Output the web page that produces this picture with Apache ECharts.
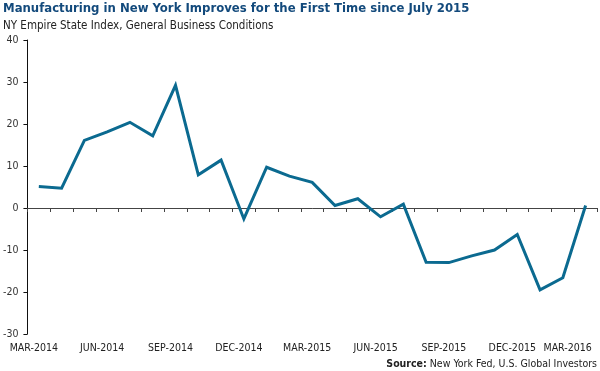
<!DOCTYPE html>
<html><head><meta charset="utf-8">
<script src="https://cdn.jsdelivr.net/npm/echarts@6/dist/echarts.min.js"></script>
<style>html,body{margin:0;padding:0;background:#fff}#c{width:600px;height:371px}</style>
</head><body><div id="c"></div>
<script>
const categories = ['MAR-2014','APR-2014','MAY-2014','JUN-2014','JUL-2014','AUG-2014','SEP-2014','OCT-2014','NOV-2014','DEC-2014',
  'JAN-2015','FEB-2015','MAR-2015','APR-2015','MAY-2015','JUN-2015','JUL-2015','AUG-2015','SEP-2015','OCT-2015','NOV-2015','DEC-2015',
  'JAN-2016','FEB-2016','MAR-2016'];
const indexValues = [5.1,4.7,16.1,18.1,20.4,17.2,29.2,7.9,11.4,-2.6,9.7,7.6,6.1,0.6,2.2,-2.1,0.9,-12.9,-13.0,-11.4,-10.0,-6.3,-19.5,-16.6,0.6];
const yMin = -30, yMax = 40, yStep = 10;
const titleText = 'Manufacturing in New York Improves for the First Time since July 2015';
const subtitleText = 'NY Empire State Index, General Business Conditions';
const sourceLabel = 'Source:';
const sourceText = ' New York Fed, U.S. Global Investors';

const FONT = '"DejaVu Sans Condensed", "Liberation Sans Narrow", Roboto, sans-serif';
const chart = echarts.init(document.getElementById('c'), null, {renderer: 'canvas'});
chart.setOption({
  animation: false,
  backgroundColor: '#fff',
  title: [{
    text: titleText,
    subtext: subtitleText,
    left: 3, top: 2, padding: 0, itemGap: 5,
    textStyle: {fontFamily: FONT, fontSize: 13, fontWeight: 'bold', color: '#134a7c'},
    subtextStyle: {fontFamily: FONT, fontSize: 11.5, fontWeight: 'normal', color: '#222'}
  }, {
    text: '{b|' + sourceLabel + '}{r|' + sourceText + '}',
    right: 3, bottom: 1, padding: 0,
    textStyle: {fontWeight: 'normal', fontFamily: FONT, fontSize: 10.5, color: '#222', rich: {
      b: {fontFamily: FONT, fontSize: 10.5, fontWeight: 'bold', color: '#222'},
      r: {fontFamily: FONT, fontSize: 10.5, fontWeight: 'normal', color: '#222'}
    }}
  }],
  grid: {left: 27, right: 3, top: 40, bottom: 37, containLabel: false},
  xAxis: [{
    type: 'category', data: categories, boundaryGap: true,
    axisLine: {onZero: true, lineStyle: {color: '#444', width: 1}},
    axisTick: {show: true, interval: 0, length: 4, lineStyle: {color: '#444'}},
    axisLabel: {show: false},
    splitLine: {show: false}
  }, {
    type: 'category', data: categories, boundaryGap: true, position: 'bottom',
    axisLine: {show: false, onZero: false},
    axisTick: {show: false},
    axisLabel: {
      interval: 2, margin: 9, color: '#222', fontFamily: FONT, fontSize: 10.5,
      formatter: function (v, i) { return i === categories.length - 1 ? '{l|' + v + '}' : '{a|' + v + '}'; },
      rich: {
        a: {fontFamily: FONT, fontSize: 10.5, color: '#222', padding: [0, 10, 0, 0]},
        l: {fontFamily: FONT, fontSize: 10.5, color: '#222', padding: [0, 36, 0, 0]}
      }
    },
    splitLine: {show: false}
  }],
  yAxis: {
    type: 'value', min: yMin, max: yMax, interval: yStep,
    axisLine: {show: true, lineStyle: {color: '#111', width: 1}},
    axisTick: {show: true, length: 4, lineStyle: {color: '#111'}},
    axisLabel: {margin: 9, color: '#333', fontFamily: FONT, fontSize: 10.5},
    splitLine: {show: false}
  },
  series: [{
    type: 'line', data: indexValues, xAxisIndex: 0, yAxisIndex: 0,
    symbol: 'none', smooth: false,
    lineStyle: {color: '#0b6a90', width: 3, join: 'miter'}
  }]
});
</script></body></html>
